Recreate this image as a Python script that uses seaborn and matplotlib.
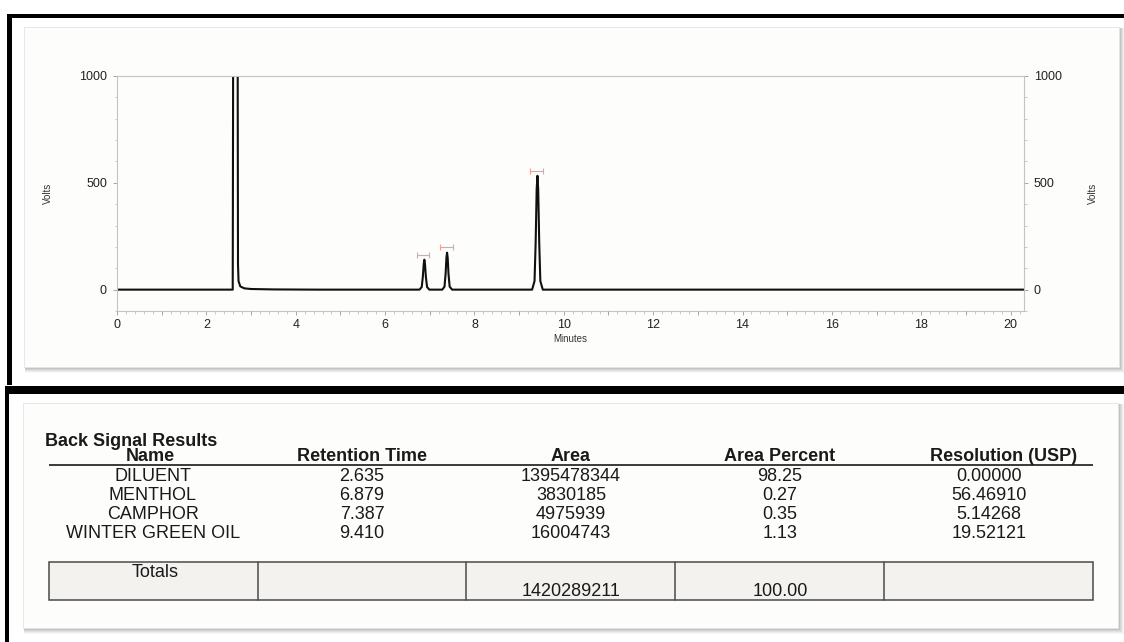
import matplotlib
matplotlib.use("Agg")
import matplotlib.pyplot as plt
from matplotlib.patches import Rectangle
from matplotlib.ticker import MultipleLocator
import seaborn as sns

# ---- chromatogram trace (retention time in minutes, detector response in volts)
trace_minutes = [0.00, 2.590, 2.598, 2.605, 2.640, 2.695, 2.702, 2.708, 2.720, 2.760,
                 2.850, 3.000, 3.500, 4.500,
                 6.770, 6.820, 6.845, 6.865, 6.879, 6.893, 6.913, 6.940, 6.990,
                 7.280, 7.330, 7.355, 7.373, 7.387, 7.401, 7.419, 7.445, 7.500,
                 9.290, 9.345, 9.370, 9.393, 9.410, 9.427, 9.450, 9.475, 9.530,
                 20.30]
trace_volts = [0, 0, 900, 3000, 6000, 3000, 900, 120, 40, 15,
               6, 3, 1, 0,
               0, 12, 60, 120, 140, 120, 60, 12, 0,
               0, 14, 75, 150, 173, 150, 75, 14, 0,
               0, 40, 220, 470, 533, 470, 220, 40, 0,
               0]

# ---- integration marks drawn above the resolved peaks
mark_start = [6.72, 7.22, 9.25]
mark_end = [6.99, 7.51, 9.54]
mark_level = [162, 198, 557]

# ---- peak report
table_title = "Back Signal Results"
column_titles = ["Name", "Retention Time", "Area", "Area Percent", "Resolution (USP)"]
peak_names = ["DILUENT", "MENTHOL", "CAMPHOR", "WINTER GREEN OIL"]
retention_times = ["2.635", "6.879", "7.387", "9.410"]
areas = ["1395478344", "3830185", "4975939", "16004743"]
area_percents = ["98.25", "0.27", "0.35", "1.13"]
resolutions = ["0.00000", "56.46910", "5.14268", "19.52121"]
totals_label = "Totals"
total_area = "1420289211"
total_percent = "100.00"

sns.set_theme(style="white")
plt.rcParams["font.family"] = ["Liberation Sans", "DejaVu Sans"]

W, H = 1124, 642
fig = plt.figure(figsize=(W / 100, H / 100), dpi=100)
fig.patch.set_facecolor("white")

# full-figure layer in pixel units for frames, cards and the report
bg = fig.add_axes([0, 0, 1, 1], zorder=0)
bg.set_xlim(0, W)
bg.set_ylim(H, 0)
bg.axis("off")

# black frames
bg.add_patch(Rectangle((7, 14), W - 7, 4, facecolor="black", lw=0))
bg.add_patch(Rectangle((7, 14), 4.5, 371, facecolor="black", lw=0))
bg.add_patch(Rectangle((5, 386), W - 5, 8, facecolor="black", lw=0))
bg.add_patch(Rectangle((5, 386), 3.5, H - 386, facecolor="black", lw=0))


def card(x0, y0, x1, y1):
    for k, a in [(5, 0.05), (4, 0.07), (3, 0.09), (2, 0.12), (1, 0.16)]:
        bg.add_patch(Rectangle((x0 + 1, y0 + 1), x1 - x0 + k, y1 - y0 + k,
                               facecolor="#707070", alpha=a, lw=0))
    bg.add_patch(Rectangle((x0, y0), x1 - x0, y1 - y0, facecolor="#fdfdfc",
                           edgecolor="#e4e4e4", lw=0.6))


card(24, 27, 1119, 367)
card(23, 403, 1118, 628)

# ---- chromatogram
ax_l, ax_r, ax_t, ax_b = 117, 1024, 76, 311
ax = fig.add_axes([ax_l / W, 1 - ax_b / H, (ax_r - ax_l) / W, (ax_b - ax_t) / H], zorder=2)
ax.set_facecolor("none")

sns.lineplot(x=trace_minutes, y=trace_volts, ax=ax, color="#101010",
             linewidth=1.5, estimator=None, sort=False)

centers = [(s + e) / 2 for s, e in zip(mark_start, mark_end)]
halfw = [(e - s) / 2 for s, e in zip(mark_start, mark_end)]
ax.errorbar(x=centers, y=mark_level, xerr=halfw, fmt="none", ecolor="#f2a08a",
            elinewidth=0.8, capsize=2.2, capthick=0.8)

ax.set_xlim(0, 20.3)
ax.set_ylim(-100, 1000)
ax.set_xticks(range(0, 21, 2))
ax.xaxis.set_minor_locator(MultipleLocator(0.2))
ax.set_yticks([0, 500, 1000])
ax.yaxis.set_minor_locator(MultipleLocator(100))

for sp in ax.spines.values():
    sp.set_visible(True)
    sp.set_color("#c4c4c4")
    sp.set_linewidth(0.8)

ax.tick_params(which="major", length=3.2, width=0.6, color="#9a9a9a",
               labelsize=9, labelcolor="#222222", direction="out")
ax.tick_params(which="minor", length=1.8, width=0.5, color="#b4b4b4", direction="out")
ax.tick_params(axis="x", which="both", bottom=True, top=False, pad=2.5)
ax.tick_params(axis="y", which="both", left=True, right=True,
               labelleft=True, labelright=True, pad=4)
ax.set_xlabel("")
ax.set_ylabel("")

# mid-length ticks at the odd minutes
mid = ax.twiny()
mid.set_xlim(ax.get_xlim())
mid.set_xticks(range(1, 21, 2))
mid.xaxis.set_ticks_position("bottom")
mid.tick_params(axis="x", length=2.6, width=0.6, color="#9a9a9a",
                labelbottom=False, labeltop=False)
for sp in mid.spines.values():
    sp.set_visible(False)
mid.patch.set_visible(False)

aw = ax_r - ax_l
ah = ax_b - ax_t
ax.text((48 - ax_l) / aw, 0.5, "Volts", transform=ax.transAxes, rotation=90,
        ha="center", va="center", fontsize=7, color="#333333")
ax.text((1093 - ax_l) / aw, 0.5, "Volts", transform=ax.transAxes, rotation=90,
        ha="center", va="center", fontsize=7, color="#333333")
ax.text(0.5, -(339 - ax_b) / ah, "Minutes", transform=ax.transAxes,
        ha="center", va="center", fontsize=7, color="#333333")

# ---- peak report table
fs = 13
txt = "#1a1a1a"
head_x = [150, 362, 571, 780, 1004]
col_x = [153, 362, 571, 780, 989]
bg.text(45, 446, table_title, ha="left", va="baseline", fontsize=fs,
        fontweight="bold", color=txt)
for cx, title in zip(head_x, column_titles):
    bg.text(cx, 461, title, ha="center", va="baseline", fontsize=fs,
            fontweight="bold", color=txt)
bg.plot([49, 1093], [465, 465], color="#3a3a3a", lw=1.4, solid_capstyle="butt")

row_base = [481, 500, 519, 538]
columns = [peak_names, retention_times, areas, area_percents, resolutions]
for cx, values in zip(col_x, columns):
    for yb, v in zip(row_base, values):
        bg.text(cx, yb, v, ha="center", va="baseline", fontsize=fs, color=txt)

# totals row
bg.add_patch(Rectangle((49, 562), 1044, 38, facecolor="#f3f2ef",
                       edgecolor="#4a4a4a", lw=1.1))
for xd in [258, 466, 675, 884]:
    bg.plot([xd, xd], [562, 600], color="#4a4a4a", lw=1.1)
bg.text(155, 577, totals_label, ha="center", va="baseline", fontsize=fs, color=txt)
bg.text(col_x[2], 596, total_area, ha="center", va="baseline", fontsize=fs, color=txt)
bg.text(col_x[3], 596, total_percent, ha="center", va="baseline", fontsize=fs, color=txt)

fig.savefig("out.png", dpi=100, facecolor="white")
